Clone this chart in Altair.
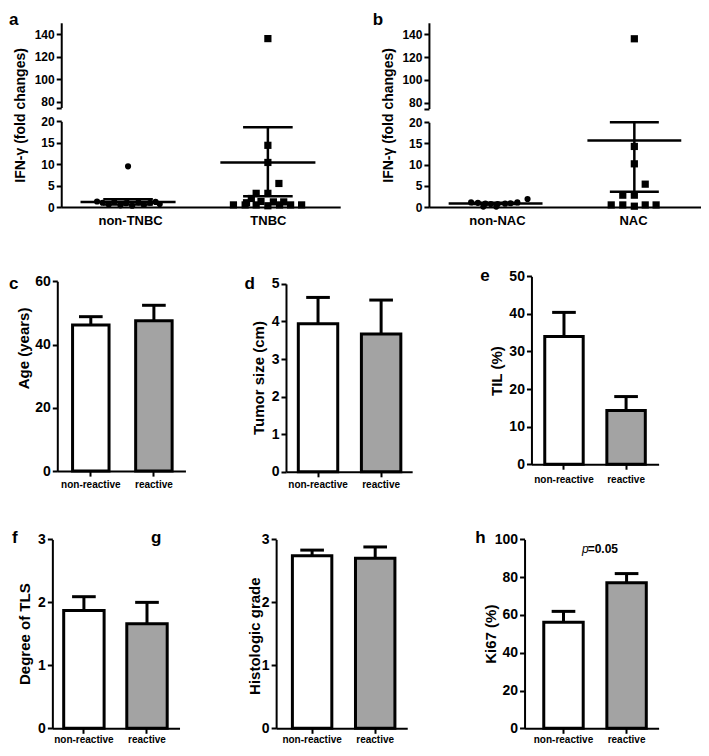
import altair as alt
import pandas as pd

W, H = 693, 740
def X(rx):
    return (rx - 3) * W / 703
def Y(ry):
    return (ry - 5) * H / 751

FONT = "Liberation Sans"
GRAY = "#a3a3a3"

# ---------------- data ----------------
# panel a : IFN-gamma, non-TNBC vs TNBC
a_labels = ["non-TNBC", "TNBC"]
a_non_x = [0.97, 0.52, 0.60, 0.69, 0.77, 0.86, 0.94, 1.03, 1.12, 1.20, 1.29, 1.37, 1.43]
a_non_y = [9.5, 1.3, 1.0, 0.6, 1.2, 0.4, 0.9, 0.3, 1.1, 0.5, 1.0, 1.2, 0.7]
a_grp_x = [3.00, 3.00, 3.00, 3.16, 2.83, 3.00, 2.76, 2.69, 2.90, 3.08, 3.23,
           2.50, 2.67, 2.83, 3.00, 3.17, 3.33, 3.49]
a_grp_y = [136, 14.4, 10.4, 5.5, 3.2, 3.2, 2.0, 1.0, 1.3, 1.2, 1.2,
           0.5, 0.5, 0.5, 0.3, 0.5, 0.5, 0.5]
a_center = [0.97, 3.0]
a_mean = [1.2, 10.4]
a_lo = [0.6, 2.5]
a_hi = [1.8, 18.6]

# panel b : IFN-gamma, non-NAC vs NAC
b_labels = ["non-NAC", "NAC"]
b_non_x = [0.62, 0.72, 0.83, 0.91, 1.01, 1.12, 1.20, 1.30, 1.45, 0.80, 0.99]
b_non_y = [1.1, 1.0, 0.8, 0.7, 0.7, 0.8, 0.9, 1.1, 1.9, 0.1, 0.1]
b_grp_x = [3.02, 3.02, 3.02, 3.18, 2.85, 3.02, 2.68, 2.85, 3.02, 3.18, 3.34]
b_grp_y = [136, 14.3, 10.2, 5.4, 2.8, 2.8, 0.5, 0.5, 0.2, 0.5, 0.5]
b_center = [0.98, 3.02]
b_mean = [0.85, 15.7]
b_lo = [0.7, 3.6]
b_hi = [1.0, 27.8]

# bar panels c-h
groups = ["non-reactive", "reactive"]
c_mean, c_up = [46.2, 47.5], [48.8, 52.4]
d_mean, d_up = [3.94, 3.67], [4.64, 4.57]
e_mean, e_up = [34.0, 14.3], [40.4, 18.0]
f_mean, f_up = [1.87, 1.66], [2.09, 2.00]
g_mean, g_up = [2.74, 2.70], [2.83, 2.88]
h_mean, h_up = [56.2, 77.1], [61.9, 81.9]

y_ticks_c = [0, 20, 40, 60]
y_ticks_d = [0, 1, 2, 3, 4, 5]
y_ticks_e = [0, 10, 20, 30, 40, 50]
y_ticks_f = [0, 1, 2, 3]
y_ticks_g = [0, 1, 2, 3]
y_ticks_h = [0, 20, 40, 60, 80, 100]

panel_letters = ["a", "b", "c", "d", "e", "f", "g", "h"]

# ---------------- layout (reference pixel geometry) ----------------
MEAN_HALF = 0.69
CAP_HALF = 0.36

scatter_layout = {
    "a": dict(ax=57, x_end=340, xmax=4.05, y0=207, y20=120, top_lo=106, top_hi=20, tc=(16, 113.5)),
    "b": dict(ax=430, x_end=706, xmax=4.0, y0=207, y20=121, top_lo=107, top_hi=20, tc=(389, 113.5)),
}

bar_layout = {
    "c": dict(ax=53, x_end=183, b1=(67, 107), b2=131, y0=475, ytop=282.3, dmax=60, title="Age (years)", tc=(18.5, 350), lp=3),
    "d": dict(ax=285, x_end=413, b1=(296, 339), b2=360, y0=475.7, ytop=285, dmax=5, title="Tumor size (cm)", tc=(257, 380), lp=3),
    "e": dict(ax=534, x_end=663, b1=(546, 588), b2=609, y0=468, ytop=277.3, dmax=50, title="TIL (%)", tc=(498.5, 373), lp=5),
    "f": dict(ax=48, x_end=177, b1=(58, 102), b2=122, y0=736, ytop=544.3, dmax=3, title="Degree of TLS", tc=(20, 640), lp=1),
    "g": dict(ax=275, x_end=408, b1=(290, 333), b2=354, y0=736, ytop=544.3, dmax=3, title="Histologic grade", tc=(253.5, 642), lp=1),
    "h": dict(ax=527, x_end=663, b1=(545, 588), b2=609, y0=736, ytop=544.3, dmax=100, title="Ki67 (%)", tc=(492.5, 640), lp=1),
}

# left edge and baseline of each panel letter (reference pixels)
letter_pos = [(2, 22), (373, 22), (2, 290), (243, 290), (482, 282), (7, 548), (148, 548), (477, 548)]


def band_params(r0, r1, a1, b1, a2, sw=3.0):
    a1 += sw / 2
    b1 -= sw / 2
    a2 += sw / 2
    step = a2 - a1
    bw = b1 - a1
    pi = 1 - bw / step
    po = ((r1 - r0) / step - 2 + pi) / 2
    span = step * (2 - pi)
    al = (a1 - r0) / ((r1 - r0) - span)
    return pi, max(po, 0.0), min(max(al, 0.0), 1.0)


def scatter_panel(labels, xs1, ys1, xs2, ys2, center, mean, lo, hi, L):
    pts = pd.DataFrame({
        "x": xs1 + xs2,
        "y": ys1 + ys2,
        "shape": ["circle"] * len(xs1) + ["square"] * len(xs2),
    })
    xsc = alt.Scale(domain=[0, L["xmax"]], range=[X(L["ax"]), X(L["x_end"])], nice=False, zero=False)
    lo_sc = alt.Scale(domain=[0, 20], range=[Y(L["y0"]), Y(L["y20"])], nice=False, zero=False, clamp=True)
    hi_sc = alt.Scale(domain=[75, 150], range=[Y(L["top_lo"]), Y(L["top_hi"])], nice=False, zero=False)
    xaxis = alt.Axis(orient="bottom", offset=Y(L["y0"]) - H, values=[1, 3],
                     labelExpr=f"datum.value == 1 ? '{labels[0]}' : '{labels[1]}'",
                     ticks=False, tickSize=0, labelPadding=7, labelFontSize=13,
                     labelFlush=False, labelAngle=0, title=None)
    ylo_axis = alt.Axis(orient="left", offset=-X(L["ax"]), values=[0, 5, 10, 15, 20],
                        tickSize=5, labelFontSize=12, labelPadding=2, title=None)
    yhi_axis = alt.Axis(orient="left", offset=-X(L["ax"]), values=[75, 80, 100, 120, 140],
                        labelExpr="datum.value == 75 ? '' : datum.label",
                        tickSize=5, labelFontSize=12, labelPadding=2,
                        title="IFN-γ  (fold changes)", titleFontSize=14,
                        titleX=X(L["tc"][0]) - X(L["ax"]), titleY=Y(L["tc"][1]),
                        titleAngle=270, titleBaseline="middle", titleAlign="center")
    shape = alt.Shape("shape:N", scale=alt.Scale(domain=["circle", "square"], range=["circle", "square"]), legend=None)
    size = alt.Size("shape:O", scale=alt.Scale(domain=["circle", "square"], range=[38, 52]), legend=None)

    low = alt.Chart(pts).mark_point(filled=True, color="black", opacity=1).encode(
        x=alt.X("x:Q", scale=xsc, axis=xaxis),
        y=alt.Y("y:Q", scale=lo_sc, axis=ylo_axis),
        shape=shape, size=size,
    ).transform_filter("datum.y <= 20")
    high = alt.Chart(pts).mark_point(filled=True, color="black", opacity=1).encode(
        x=alt.X("x:Q", scale=xsc, axis=None),
        y=alt.Y("y:Q", scale=hi_sc, axis=yhi_axis),
        shape=shape, size=size,
    ).transform_filter("datum.y >= 75")

    stats = pd.DataFrame({"c": center, "m": mean, "lo": lo, "hi": hi})
    stats["x1"] = stats["c"] - MEAN_HALF
    stats["x2"] = stats["c"] + MEAN_HALF
    caps = pd.DataFrame({
        "x1": [c - CAP_HALF for c in center] * 2,
        "x2": [c + CAP_HALF for c in center] * 2,
        "v": lo + hi,
    })
    mean_line = alt.Chart(stats).mark_rule(strokeWidth=2.5, color="black").encode(
        x=alt.X("x1:Q", scale=xsc, axis=None), x2="x2:Q",
        y=alt.Y("m:Q", scale=lo_sc, axis=None))
    cap_line = alt.Chart(caps).mark_rule(strokeWidth=2.5, color="black").encode(
        x=alt.X("x1:Q", scale=xsc, axis=None), x2="x2:Q",
        y=alt.Y("v:Q", scale=lo_sc, axis=None))
    vert = alt.Chart(stats).mark_rule(strokeWidth=2.5, color="black").encode(
        x=alt.X("c:Q", scale=xsc, axis=None),
        y=alt.Y("lo:Q", scale=lo_sc, axis=None), y2="hi:Q")
    return [low, high, mean_line, cap_line, vert]


def bar_panel(means, ups, ticks, L):
    df = pd.DataFrame({"g": groups, "m": means, "u": ups})
    pi, po, al = band_params(L["ax"], L["x_end"], L["b1"][0], L["b1"][1], L["b2"])
    xsc = alt.Scale(domain=groups, range=[X(L["ax"]), X(L["x_end"])],
                    paddingInner=pi, paddingOuter=po, align=al)
    ysc = alt.Scale(domain=[0, L["dmax"]], range=[Y(L["y0"]), Y(L["ytop"])], nice=False, zero=False)
    xaxis = alt.Axis(orient="bottom", offset=Y(L["y0"]) - H, tickSize=5, labelFontSize=10,
                     labelPadding=L["lp"], labelAngle=0, labelFlush=False, labelOverlap=False, title=None)
    yaxis = alt.Axis(orient="left", offset=-X(L["ax"]), values=ticks, tickSize=5,
                     labelFontSize=14, labelPadding=2, title=L["title"], titleFontSize=15,
                     titleX=X(L["tc"][0]) - X(L["ax"]), titleY=Y(L["tc"][1]),
                     titleAngle=270, titleBaseline="middle", titleAlign="center")
    bars = alt.Chart(df).mark_bar(stroke="black", strokeWidth=3).encode(
        x=alt.X("g:N", scale=xsc, axis=xaxis, sort=groups),
        y=alt.Y("m:Q", scale=ysc, axis=yaxis),
        fill=alt.Fill("g:N", scale=alt.Scale(domain=groups, range=["white", GRAY]), legend=None),
    )
    err = alt.Chart(df).mark_rule(strokeWidth=3, color="black").encode(
        x=alt.X("g:N", scale=xsc, axis=None, sort=groups),
        y=alt.Y("m:Q", scale=ysc, axis=None), y2="u:Q")
    cap = alt.Chart(df).mark_tick(thickness=3, size=X(27) - X(3), color="black", opacity=1).encode(
        x=alt.X("g:N", scale=xsc, axis=None, sort=groups),
        y=alt.Y("u:Q", scale=ysc, axis=None))
    return [bars, err, cap]


layers = []
layers += scatter_panel(a_labels, a_non_x, a_non_y, a_grp_x, a_grp_y, a_center, a_mean, a_lo, a_hi, scatter_layout["a"])
layers += scatter_panel(b_labels, b_non_x, b_non_y, b_grp_x, b_grp_y, b_center, b_mean, b_lo, b_hi, scatter_layout["b"])
layers += bar_panel(c_mean, c_up, y_ticks_c, bar_layout["c"])
layers += bar_panel(d_mean, d_up, y_ticks_d, bar_layout["d"])
layers += bar_panel(e_mean, e_up, y_ticks_e, bar_layout["e"])
layers += bar_panel(f_mean, f_up, y_ticks_f, bar_layout["f"])
layers += bar_panel(g_mean, g_up, y_ticks_g, bar_layout["g"])
layers += bar_panel(h_mean, h_up, y_ticks_h, bar_layout["h"])

letters_df = pd.DataFrame({
    "t": panel_letters,
    "px": [max(1.0, X(p[0])) for p in letter_pos],
    "py": [max(17.0, Y(p[1])) for p in letter_pos],
})
letters = alt.Chart(letters_df).mark_text(font=FONT, fontSize=17, fontWeight="bold",
                                          align="left", baseline="alphabetic", color="black").encode(
    x=alt.X("px:Q", scale=None, axis=None), y=alt.Y("py:Q", scale=None, axis=None), text="t:N")
layers.append(letters)

pval_df = pd.DataFrame({"t": ["p", "=0.05"], "px": [X(592), X(591)], "py": [Y(558), Y(558)],
                        "st": ["italic", "normal"]})
p_txt = alt.Chart(pval_df).transform_filter("datum.st == 'italic'").mark_text(
    font=FONT, fontSize=12, fontStyle="italic", align="right", baseline="alphabetic", color="black").encode(
    x=alt.X("px:Q", scale=None, axis=None), y=alt.Y("py:Q", scale=None, axis=None), text="t:N")
v_txt = alt.Chart(pval_df).transform_filter("datum.st == 'normal'").mark_text(
    font=FONT, fontSize=12, fontWeight="bold", align="left", baseline="alphabetic", color="black").encode(
    x=alt.X("px:Q", scale=None, axis=None), y=alt.Y("py:Q", scale=None, axis=None), text="t:N")
layers += [p_txt, v_txt]

chart = alt.layer(*layers).resolve_scale(x="independent", y="independent").properties(
    width=W, height=H, autosize=alt.AutoSizeParams(type="none"), padding=0
).configure(font=FONT).configure_axis(
    domainColor="black", tickColor="black", labelColor="black", titleColor="black",
    grid=False, labelFont=FONT, titleFont=FONT, labelFontWeight="bold", titleFontWeight="bold",
    domainWidth=2, tickWidth=2,
).configure_view(stroke=None)

chart.save("out.html", embed_options={"renderer": "svg", "actions": False})
